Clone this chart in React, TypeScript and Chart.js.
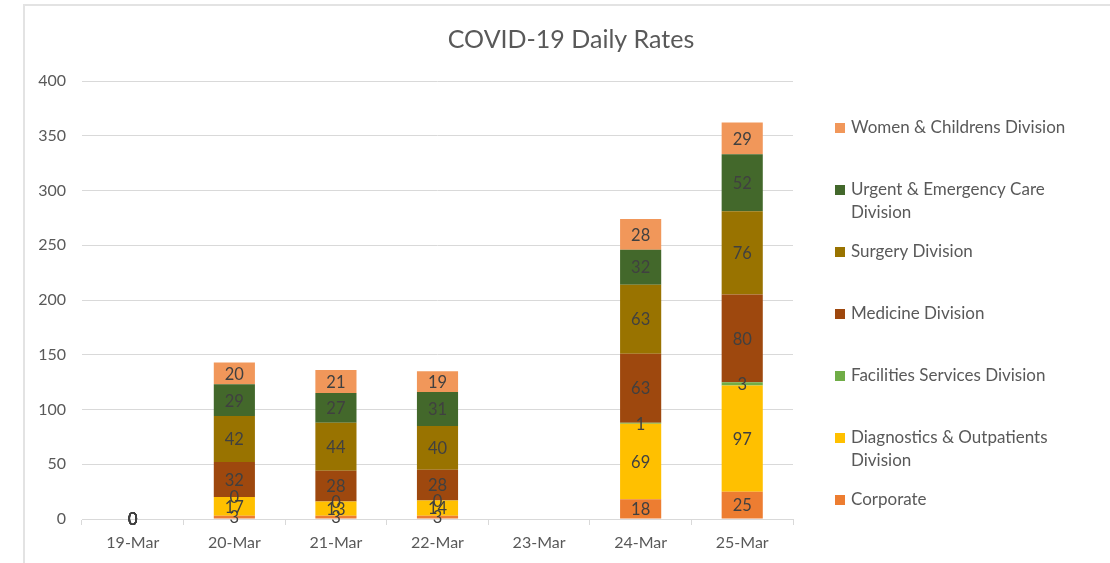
import React, { useEffect, useRef } from "react";
import { Chart, registerables } from "chart.js";

Chart.register(...registerables);

const categories = ["19-Mar", "20-Mar", "21-Mar", "22-Mar", "23-Mar", "24-Mar", "25-Mar"];

const corporate = [0, 3, 3, 3, null, 18, 25];
const diagnostics = [0, 17, 13, 14, null, 69, 97];
const facilities = [0, 0, 0, 0, null, 1, 3];
const medicine = [0, 32, 28, 28, null, 63, 80];
const surgery = [0, 42, 44, 40, null, 63, 76];
const urgent = [0, 29, 27, 31, null, 32, 52];
const women = [0, 20, 21, 19, null, 28, 29];

const seriesNames = [
  "Corporate",
  "Diagnostics & Outpatients Division",
  "Facilities Services Division",
  "Medicine Division",
  "Surgery Division",
  "Urgent & Emergency Care Division",
  "Women & Childrens Division",
];
const seriesValues = [corporate, diagnostics, facilities, medicine, surgery, urgent, women];
const seriesColors = ["#ED7D31", "#FFC000", "#70AD47", "#9E480E", "#997300", "#43682B", "#F1975A"];

const yTickValues = [0, 50, 100, 150, 200, 250, 300, 350, 400];
const chartTitle = "COVID-19 Daily Rates";

const FONT = "Lato, 'Open Sans', sans-serif";

const segmentLabels = {
  id: "segmentLabels",
  afterDatasetsDraw(chart: any) {
    const ctx = chart.ctx;
    ctx.save();
    ctx.font = `16.5px ${FONT}`;
    ctx.fillStyle = "#404040";
    ctx.textAlign = "center";
    ctx.textBaseline = "middle";
    chart.data.datasets.forEach((ds: any, i: number) => {
      const meta = chart.getDatasetMeta(i);
      meta.data.forEach((el: any, j: number) => {
        const v = ds.data[j];
        if (v === null || v === undefined) return;
        const p = el.getProps(["x", "y", "base"], true);
        ctx.fillText(String(v), p.x, (p.y + p.base) / 2 + 1);
      });
    });
    ctx.restore();
  },
};

const titleAndLegend = {
  id: "titleAndLegend",
  afterDraw(chart: any) {
    const ctx = chart.ctx;
    ctx.save();
    ctx.fillStyle = "#595959";
    ctx.font = `25px ${FONT}`;
    ctx.textAlign = "center";
    ctx.textBaseline = "middle";
    ctx.fillText(chartTitle, 571, 40);

    ctx.font = `17px ${FONT}`;
    ctx.textAlign = "left";
    const maxW = 225;
    let y = 128;
    for (let k = seriesNames.length - 1; k >= 0; k--) {
      const words = seriesNames[k].split(" ");
      const lines: string[] = [];
      let cur = "";
      for (const w of words) {
        const test = cur ? cur + " " + w : w;
        if (cur && ctx.measureText(test).width > maxW) {
          lines.push(cur);
          cur = w;
        } else cur = test;
      }
      if (cur) lines.push(cur);
      ctx.fillStyle = seriesColors[k];
      ctx.fillRect(835, y - 5, 10, 10);
      ctx.fillStyle = "#595959";
      lines.forEach((ln, li) => ctx.fillText(ln, 851, y + li * 23));
      y += 62;
    }
    ctx.restore();
  },
};

export default function App() {
  const ref = useRef<HTMLCanvasElement | null>(null);
  useEffect(() => {
    if (!ref.current) return;
    const chart = new Chart(ref.current, {
      type: "bar",
      data: {
        labels: categories,
        datasets: seriesNames.map((name, i) => ({
          label: name,
          data: seriesValues[i],
          backgroundColor: seriesColors[i],
          borderWidth: 0,
          categoryPercentage: 1,
          barPercentage: 0.405,
        })),
      },
      options: {
        responsive: false,
        animation: false,
        layout: { padding: { left: 0, right: 317, top: 81, bottom: 0 } },
        plugins: {
          legend: { display: false },
          title: { display: false },
          tooltip: { enabled: false },
        },
        scales: {
          x: {
            stacked: true,
            offset: true,
            grid: {
              offset: true,
              drawOnChartArea: false,
              drawTicks: true,
              tickLength: 6,
              color: "#D9D9D9",
            },
            border: { display: true, color: "#D9D9D9" },
            ticks: { color: "#595959", font: { family: FONT, size: 16 }, padding: 8, maxRotation: 0 },
            afterFit: (s: any) => {
              s.height = 44;
            },
          },
          y: {
            stacked: true,
            min: 0,
            max: 400,
            afterBuildTicks: (s: any) => {
              s.ticks = yTickValues.map((v) => ({ value: v }));
            },
            grid: { color: "#D9D9D9", drawTicks: false },
            border: { display: false },
            ticks: { color: "#595959", font: { family: FONT, size: 16 }, padding: 16 },
            afterFit: (s: any) => {
              s.width = 82;
            },
          },
        },
      },
      plugins: [segmentLabels, titleAndLegend],
    });
    return () => chart.destroy();
  }, []);

  return (
    <div style={{ position: "fixed", left: 0, top: 0, width: 1110, height: 563, background: "#fff", overflow: "hidden" }}>
      <div
        style={{
          position: "absolute",
          left: 23,
          top: 4,
          width: 1200,
          height: 700,
          borderLeft: "2px solid #E3E3E3",
          borderTop: "2px solid #E3E3E3",
        }}
      />
      <canvas ref={ref} width={1110} height={563} style={{ position: "absolute", left: 0, top: 0 }} />
    </div>
  );
}
